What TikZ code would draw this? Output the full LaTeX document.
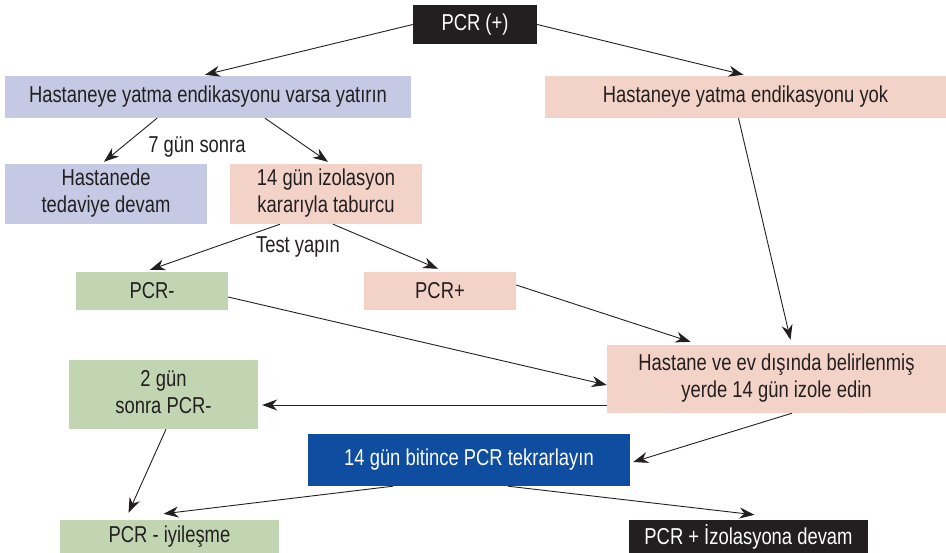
\documentclass[tikz,border=0pt]{standalone}
\usepackage{fontspec}
\setmainfont[FakeStretch=0.80]{Liberation Sans}
\usepackage{tikz}
\usetikzlibrary{arrows.meta}

\definecolor{lavbox}{HTML}{C5C9E4}
\definecolor{salbox}{HTML}{F3D3C8}
\definecolor{grnbox}{HTML}{C2D5B3}
\definecolor{blubox}{HTML}{0E4D9F}
\definecolor{blkbox}{HTML}{231F20}
\definecolor{txtdark}{HTML}{231F20}

\begin{document}
\begin{tikzpicture}[x=1pt,y=-1pt,
        box/.style={rectangle, inner sep=0pt, text=txtdark, font=\fontsize{23}{27}\selectfont},
        lav/.style={box, fill=lavbox},
        sal/.style={box, fill=salbox},
        grn/.style={box, fill=grnbox},
        dark/.style={box, fill=blkbox, text=white},
        blu/.style={box, fill=blubox, text=white},
        arr/.style={-{Stealth[length=15pt,width=11pt]}, line width=0.9pt, draw=txtdark},
        lbl/.style={text=txtdark, font=\fontsize{23}{27}\selectfont}]
        \useasboundingbox (0,0) rectangle (946,553);
        \node[dark, minimum width=124pt, minimum height=39pt] (pcr) at (475,24.5) {PCR (+)};
        \node[lav, minimum width=406pt, minimum height=42pt] (hyes) at (208,97) {Hastaneye yatma endikasyonu varsa yatırın};
        \node[sal, minimum width=401pt, minimum height=42pt] (hno) at (745.5,97) {Hastaneye yatma endikasyonu yok};
        \node[lav, minimum width=202pt, minimum height=60pt] (hdevam) at (106,194) {
                                                           \begin{tabular}{c}
                                                            Hastanede \\
                                                            tedaviye devam
                                                           \end{tabular}
                                                          };
        \node[sal, minimum width=192pt, minimum height=60pt] (izol) at (326,194) {
                                                           \begin{tabular}{c}
                                                            14 gün izolasyon \\
                                                            kararıyla taburcu
                                                           \end{tabular}
                                                          };
        \node[grn, minimum width=152pt, minimum height=38pt] (pcrneg) at (152,291) {PCR-};
        \node[sal, minimum width=152pt, minimum height=38pt] (pcrpos) at (440,291) {PCR+};
        \node[sal, minimum width=339pt, minimum height=68pt] (isolate) at (776.5,379) {
                                                           \begin{tabular}{c}
                                                            Hastane ve ev dışında belirlenmiş \\
                                                            yerde 14 gün izole edin
                                                           \end{tabular}
                                                          };
        \node[grn, minimum width=189pt, minimum height=69pt] (twoday) at (163.5,394.5) {
                                                           \begin{tabular}{c}
                                                            2 gün \\
                                                            sonra PCR-
                                                           \end{tabular}
                                                          };
        \node[blu, minimum width=322pt, minimum height=52pt] (repeat) at (469,460) {14 gün bitince PCR tekrarlayın};
        \node[grn, minimum width=219pt, minimum height=33pt] (recov) at (169.5,536.5) {PCR - iyileşme};
        \node[dark, minimum width=239pt, minimum height=33pt] (cont) at (748.5,536.5) {PCR + İzolasyona devam};
        \node[lbl] (seven) at (197,147) {7 gün sonra};
        \node[lbl] (test) at (298,247) {Test yapın};
        \draw[arr] (pcr.west) -- ([xshift=-3pt,yshift=1pt]hyes.north);
        \draw[arr] (pcr.east) -- ([xshift=-2pt,yshift=1pt]hno.north);
        \draw[arr] ([xshift=-51pt]hyes.south) -- ([xshift=-2pt,yshift=2pt]hdevam.north);
        \draw[arr] ([xshift=57pt]hyes.south) -- ([xshift=2pt,yshift=2pt]izol.north);
        \draw[arr] ([xshift=-46pt]izol.south) -- ([xshift=-2pt,yshift=2pt]pcrneg.north);
        \draw[arr] ([xshift=7pt]izol.south) -- ([xshift=-2pt,yshift=3pt]pcrpos.north);
        \draw[arr] ([xshift=-7pt]hno.south) -- ([xshift=14pt,yshift=5pt]isolate.north);
        \draw[arr] ([yshift=6pt]pcrpos.east) -- ([xshift=-86pt,yshift=3pt]isolate.north);
        \draw[arr] ([yshift=-6pt]pcrneg.east) -- ([yshift=-6pt]isolate.west);
        \draw[arr] ([yshift=-26pt]isolate.west) -- ([xshift=4pt,yshift=-26pt]isolate.west -| twoday.east);
        \draw[arr] ([xshift=15.5pt]isolate.south) -- ([xshift=3pt,yshift=-2pt]repeat.east);
        \draw[arr] ([xshift=2.5pt]twoday.south) -- ([xshift=-41pt,yshift=7pt]recov.north);
        \draw[arr] ([xshift=-76pt]repeat.south) -- ([xshift=-6pt,yshift=6pt]recov.north);
        \draw[arr] ([xshift=39pt]repeat.south) -- ([xshift=6pt,yshift=5pt]cont.north);
      \end{tikzpicture}
\end{document}
